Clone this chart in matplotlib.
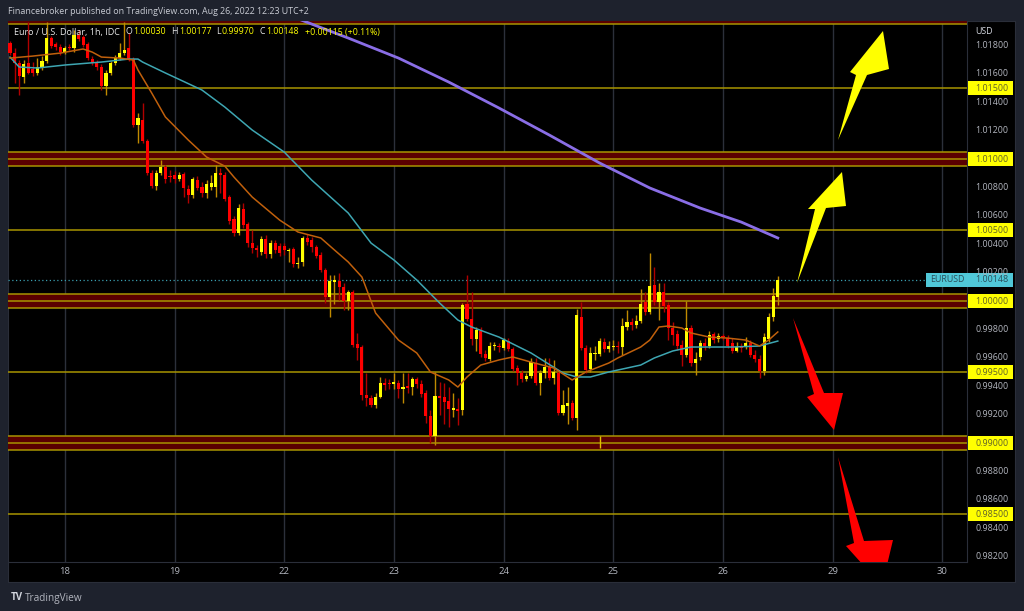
import matplotlib.pyplot as plt
import matplotlib.patches as mpatches
from matplotlib.transforms import blended_transform_factory
import numpy as np

plt.rcParams['font.family'] = ['Open Sans', 'DejaVu Sans']

# EUR/USD 1h candles, Aug 17 12:00 -> Aug 26 12:00
opens = [1.01817, 1.01746, 1.01676, 1.01577, 1.01676, 1.01634, 1.01606, 1.01641, 1.01690, 1.01852,
         1.01810, 1.01789, 1.01753, 1.01789, 1.01782, 1.01873, 1.01859, 1.01810, 1.01704, 1.01676,
         1.01648, 1.01514, 1.01606, 1.01676, 1.01711, 1.01746, 1.01782, 1.01704, 1.01239, 1.01275,
         1.01127, 1.00901, 1.00810, 1.00901, 1.00944, 1.00880, 1.00887, 1.00859, 1.00894, 1.00789,
         1.00746, 1.00852, 1.00803, 1.00761, 1.00803, 1.00803, 1.00901, 1.00887, 1.00732, 1.00577,
         1.00479, 1.00648, 1.00542, 1.00408, 1.00373, 1.00345, 1.00437, 1.00331, 1.00408, 1.00387,
         1.00387, 1.00352, 1.00366, 1.00261, 1.00275, 1.00444, 1.00430, 1.00380, 1.00324, 1.00218,
         1.00028, 1.00134, 1.00141, 1.00099, 1.00000, 1.00063, 0.99697, 0.99676, 0.99338, 0.99317,
         0.99268, 0.99324, 0.99423, 0.99423, 0.99416, 0.99423, 0.99380, 0.99401, 0.99394, 0.99451,
         0.99416, 0.99352, 0.99190, 0.99049, 0.99331, 0.99324, 0.99296, 0.99232, 0.99239, 0.99232,
         0.99979, 0.99873, 0.99732, 0.99789, 0.99627, 0.99592, 0.99683, 0.99683, 0.99669, 0.99718,
         0.99662, 0.99528, 0.99493, 0.99451, 0.99472, 0.99563, 0.99423, 0.99493, 0.99535, 0.99458,
         0.99493, 0.99211, 0.99261, 0.99282, 0.99176, 0.99887, 0.99669, 0.99521, 0.99627, 0.99627,
         0.99711, 0.99662, 0.99676, 0.99683, 0.99676, 0.99817, 0.99852, 0.99831, 0.99859, 0.99993,
         0.99923, 1.00113, 0.99993, 1.00063, 0.99972, 0.99810, 0.99768, 0.99690, 0.99620, 0.99810,
         0.99563, 0.99606, 0.99704, 0.99683, 0.99768, 0.99732, 0.99754, 0.99739, 0.99704, 0.99648,
         0.99676, 0.99676, 0.99704, 0.99620, 0.99592, 0.99507, 0.99732, 0.99887, 1.00030]
highs = [1.01831, 1.01782, 1.01697, 1.01697, 1.01965, 1.01683, 1.01711, 1.01725, 1.01965, 1.01866,
         1.01824, 1.01810, 1.01796, 1.01810, 1.01908, 1.01908, 1.01873, 1.01824, 1.01725, 1.01697,
         1.01669, 1.01627, 1.01690, 1.01732, 1.01817, 1.01965, 1.01887, 1.01718, 1.01324, 1.01394,
         1.01141, 1.00923, 1.00923, 1.00993, 1.00958, 1.00923, 1.00915, 1.00908, 1.00908, 1.00817,
         1.00873, 1.00880, 1.00838, 1.00852, 1.00887, 1.00958, 1.00937, 1.00908, 1.00746, 1.00599,
         1.00683, 1.00690, 1.00556, 1.00500, 1.00394, 1.00458, 1.00465, 1.00430, 1.00430, 1.00408,
         1.00408, 1.00373, 1.00380, 1.00310, 1.00458, 1.00472, 1.00451, 1.00394, 1.00345, 1.00232,
         1.00183, 1.00183, 1.00197, 1.00127, 1.00077, 1.00077, 0.99775, 0.99690, 0.99493, 0.99338,
         0.99352, 0.99465, 0.99458, 0.99451, 0.99493, 0.99444, 0.99493, 0.99493, 0.99465, 0.99465,
         0.99444, 0.99373, 0.99232, 0.99500, 0.99430, 0.99423, 0.99394, 0.99352, 0.99317, 0.99986,
         1.00183, 1.00063, 0.99817, 0.99817, 0.99655, 0.99711, 0.99711, 0.99704, 0.99739, 0.99739,
         0.99676, 0.99549, 0.99514, 0.99493, 0.99599, 0.99599, 0.99514, 0.99599, 0.99599, 0.99585,
         0.99514, 0.99373, 0.99394, 0.99303, 0.99944, 0.99993, 0.99690, 0.99676, 0.99683, 0.99739,
         0.99739, 0.99718, 0.99725, 0.99718, 0.99880, 0.99937, 0.99880, 0.99901, 1.00085, 1.00063,
         1.00338, 1.00239, 1.00127, 1.00127, 0.99993, 0.99852, 0.99796, 0.99725, 1.00000, 0.99831,
         0.99641, 0.99725, 0.99739, 0.99789, 0.99782, 0.99775, 0.99768, 0.99761, 0.99739, 0.99711,
         0.99704, 0.99746, 0.99725, 0.99655, 0.99620, 0.99775, 0.99915, 1.00092, 1.00177]
lows = [1.01732, 1.01535, 1.01451, 1.01535, 1.01599, 1.01584, 1.01591, 1.01627, 1.01676, 1.01782,
        1.01768, 1.01732, 1.01739, 1.01768, 1.01753, 1.01831, 1.01789, 1.01697, 1.01662, 1.01627,
        1.01486, 1.01451, 1.01591, 1.01662, 1.01697, 1.01732, 1.01690, 1.01225, 1.01113, 1.01113,
        1.00887, 1.00796, 1.00782, 1.00887, 1.00831, 1.00838, 1.00831, 1.00845, 1.00732, 1.00690,
        1.00725, 1.00782, 1.00732, 1.00725, 1.00782, 1.00732, 1.00761, 1.00704, 1.00542, 1.00458,
        1.00465, 1.00514, 1.00380, 1.00338, 1.00310, 1.00324, 1.00303, 1.00303, 1.00338, 1.00317,
        1.00324, 1.00275, 1.00239, 1.00232, 1.00246, 1.00394, 1.00345, 1.00303, 1.00204, 0.99986,
        0.99887, 0.99979, 1.00007, 0.99937, 0.99937, 0.99676, 0.99585, 0.99303, 0.99261, 0.99254,
        0.99246, 0.99317, 0.99373, 0.99380, 0.99380, 0.99317, 0.99282, 0.99352, 0.99338, 0.99387,
        0.99324, 0.99141, 0.99000, 0.98986, 0.99197, 0.99134, 0.99113, 0.99183, 0.99127, 0.99197,
        0.99859, 0.99690, 0.99648, 0.99606, 0.99577, 0.99577, 0.99655, 0.99641, 0.99655, 0.99648,
        0.99507, 0.99408, 0.99430, 0.99437, 0.99458, 0.99408, 0.99338, 0.99458, 0.99444, 0.99416,
        0.99197, 0.99197, 0.99134, 0.99162, 0.99092, 0.99655, 0.99493, 0.99500, 0.99585, 0.99613,
        0.99641, 0.99641, 0.99655, 0.99634, 0.99620, 0.99796, 0.99796, 0.99810, 0.99845, 0.99901,
        0.99908, 0.99972, 0.99866, 0.99923, 0.99725, 0.99690, 0.99655, 0.99542, 0.99606, 0.99542,
        0.99479, 0.99585, 0.99655, 0.99669, 0.99704, 0.99711, 0.99725, 0.99669, 0.99634, 0.99641,
        0.99641, 0.99662, 0.99606, 0.99570, 0.99458, 0.99479, 0.99711, 0.99859, 0.99970]
closes = [1.01746, 1.01676, 1.01584, 1.01669, 1.01606, 1.01606, 1.01648, 1.01690, 1.01852, 1.01796,
          1.01789, 1.01753, 1.01782, 1.01782, 1.01873, 1.01845, 1.01803, 1.01711, 1.01676, 1.01648,
          1.01514, 1.01606, 1.01676, 1.01711, 1.01746, 1.01768, 1.01704, 1.01239, 1.01289, 1.01127,
          1.00901, 1.00810, 1.00901, 1.00944, 1.00859, 1.00873, 1.00859, 1.00887, 1.00796, 1.00746,
          1.00859, 1.00796, 1.00761, 1.00824, 1.00831, 1.00901, 1.00887, 1.00718, 1.00563, 1.00479,
          1.00655, 1.00535, 1.00408, 1.00373, 1.00359, 1.00437, 1.00331, 1.00408, 1.00359, 1.00338,
          1.00359, 1.00359, 1.00261, 1.00268, 1.00444, 1.00415, 1.00380, 1.00317, 1.00218, 1.00028,
          1.00141, 1.00148, 1.00099, 1.00000, 1.00063, 0.99690, 0.99669, 0.99338, 0.99317, 0.99268,
          0.99324, 0.99423, 0.99408, 0.99416, 0.99430, 0.99380, 0.99394, 0.99387, 0.99451, 0.99416,
          0.99345, 0.99190, 0.99049, 0.99331, 0.99320, 0.99289, 0.99239, 0.99246, 0.99225, 0.99972,
          0.99873, 0.99732, 0.99796, 0.99627, 0.99599, 0.99683, 0.99690, 0.99676, 0.99725, 0.99662,
          0.99521, 0.99493, 0.99451, 0.99472, 0.99570, 0.99423, 0.99493, 0.99535, 0.99458, 0.99500,
          0.99211, 0.99268, 0.99282, 0.99176, 0.99901, 0.99669, 0.99514, 0.99634, 0.99634, 0.99718,
          0.99662, 0.99683, 0.99683, 0.99676, 0.99824, 0.99852, 0.99831, 0.99859, 0.99979, 0.99923,
          1.00106, 0.99993, 1.00063, 0.99965, 0.99810, 0.99761, 0.99683, 0.99620, 0.99810, 0.99563,
          0.99592, 0.99704, 0.99683, 0.99761, 0.99725, 0.99754, 0.99746, 0.99683, 0.99648, 0.99676,
          0.99669, 0.99704, 0.99620, 0.99592, 0.99507, 0.99746, 0.99887, 1.00035, 1.00148]

# moving averages (bar index, price)
ma_fast_idx = [0, 5, 11, 16, 18, 20, 24, 27, 28, 31, 34, 39, 43, 47, 49, 53, 59, 63, 68, 71,
               74, 77, 80, 85, 89, 92, 96, 98, 100, 103, 107, 110, 114, 119, 123, 126, 131, 133,
               138, 140, 142, 144, 147, 149, 153, 157, 161, 164, 166, 168]
ma_fast = [1.01711, 1.01725, 1.01746, 1.01775, 1.01753, 1.01718, 1.01711, 1.01697, 1.01627, 1.01465,
           1.01296, 1.01134, 1.01014, 1.00950, 1.00873, 1.00732, 1.00570, 1.00486, 1.00444, 1.00359,
           1.00275, 1.00169, 0.99915, 0.99725, 0.99634, 0.99500, 0.99444, 0.99394, 0.99465, 0.99549,
           0.99585, 0.99606, 0.99570, 0.99528, 0.99444, 0.99500, 0.99563, 0.99599, 0.99676, 0.99725,
           0.99817, 0.99824, 0.99810, 0.99775, 0.99746, 0.99739, 0.99725, 0.99683, 0.99725, 0.99782]
ma_mid_idx = [0, 2, 6, 12, 20, 26, 28, 29, 34, 42, 47, 53, 60, 66, 74, 79, 84, 89, 94, 98,
              101, 107, 114, 121, 124, 127, 131, 138, 141, 145, 149, 158, 164, 168]
ma_mid = [1.01718, 1.01648, 1.01641, 1.01662, 1.01683, 1.01704, 1.01704, 1.01683, 1.01606, 1.01486,
          1.01366, 1.01204, 1.01049, 1.00852, 1.00620, 1.00408, 1.00289, 1.00148, 0.99986, 0.99866,
          0.99817, 0.99746, 0.99634, 0.99493, 0.99465, 0.99465, 0.99500, 0.99549, 0.99599, 0.99648,
          0.99676, 0.99676, 0.99683, 0.99718]
ma_slow_idx = [62, 74, 85, 96, 107, 118, 129, 140, 151, 160, 168]
ma_slow = [1.02000, 1.01852, 1.01711, 1.01542, 1.01359, 1.01169, 1.00972, 1.00796, 1.00655, 1.00556, 1.00444]

day_pos = [12, 36, 60, 84, 108, 132, 156, 180, 204]
day_labels = ['18', '19', '22', '23', '24', '25', '26', '29', '30']

level_lines = [1.0150, 1.0050, 0.9950, 0.9850]
zone_levels = [1.0200, 1.0100, 1.0000, 0.9900]
zone_half = 0.00052
axis_ticks = [1.018, 1.016, 1.014, 1.012, 1.008, 1.006, 1.004, 1.002,
              0.998, 0.996, 0.994, 0.992, 0.988, 0.986, 0.984, 0.982]
tag_levels = [1.0150, 1.0100, 1.0050, 1.0000, 0.9950, 0.9900, 0.9850]
last_price = 1.00148

W, H = 1024, 611
fig = plt.figure(figsize=(W / 100, H / 100), dpi=100)
fig.patch.set_facecolor('#1e222d')


def fx(px):
    return px / W


def fy(py):
    return 1 - py / H


ymin, ymax = 0.98162, 1.01972

# black chart panel
panel = fig.add_axes([fx(8), fy(582), fx(1015) - fx(8), fy(21) - fy(582)])
panel.set_facecolor('black')
panel.set_xticks([])
panel.set_yticks([])
for s in panel.spines.values():
    s.set_color('#2a2e39')

ax = fig.add_axes([fx(8), fy(562), fx(967) - fx(8), fy(21) - fy(562)])
ax.set_facecolor('none')
ax.set_xlim(-0.44, 209.4)
ax.set_ylim(ymin, ymax)
ax.set_xticks([])
ax.set_yticks([])
for s in ax.spines.values():
    s.set_visible(False)
ax.spines['bottom'].set_visible(True)
ax.spines['bottom'].set_color('#2a2e39')
ax.spines['right'].set_visible(True)
ax.spines['right'].set_color('#2a2e39')

# day grid
ax.vlines(day_pos, ymin, ymax, color='#2c303a', lw=1, zorder=0)

# zones and levels
for z in zone_levels:
    ax.axhspan(z - zone_half, z + zone_half, color='#5a0000', lw=0, zorder=1)
    for v in (z - zone_half, z, z + zone_half):
        ax.axhline(v, color='#a89400', lw=1.1, zorder=1.5)
for lv in level_lines:
    ax.axhline(lv, color='#a89400', lw=1.1, zorder=1.5)
ax.axhline(last_price, color='#3a9fb0', lw=0.9, ls=(0, (1, 2)), zorder=1.5)
ax.vlines(129, 0.98965, 0.99052, color='#e0c000', lw=1, zorder=1.6)

# candles
x = np.arange(len(opens))
o = np.array(opens)
c = np.array(closes)
up = c >= o
wick_cols = np.where(up, '#c08a00', '#b00000')
body_cols = np.where(up, '#ffff00', '#ff0000')
ax.vlines(x, lows, highs, colors=wick_cols, lw=1, zorder=3)
body_h = np.maximum(np.abs(c - o), 0.00003)
ax.bar(x, body_h, bottom=np.minimum(o, c), width=0.68, color=body_cols, lw=0, zorder=4)

# moving averages
ax.plot(ma_slow_idx, ma_slow, color='#8a6ee6', lw=2, zorder=5)
ax.plot(ma_mid_idx, ma_mid, color='#3ea6b2', lw=1.1, zorder=5)
ax.plot(ma_fast_idx, ma_fast, color='#c0600c', lw=1.1, zorder=5)

# day labels in the time axis row
tb = blended_transform_factory(ax.transData, fig.transFigure)
for p, lab in zip(day_pos, day_labels):
    ax.text(p, fy(572), lab, transform=tb, ha='center', va='center',
            color='#b2b5be', fontsize=6.8, clip_on=False)

# price scale
rax = fig.add_axes([fx(967), fy(562), fx(1015) - fx(967), fy(21) - fy(562)])
rax.set_facecolor('none')
rax.set_xlim(967, 1015)
rax.set_ylim(ymin, ymax)
rax.axis('off')
for t in axis_ticks:
    rax.text(975, t, f'{t:.5f}', color='#b2b5be', fontsize=6.4, va='center', ha='left')
rax.text(975, 1.0190, 'USD', color='#d1d4dc', fontsize=6.4, va='center', ha='left')
tag_h = 0.00092
for t in tag_levels:
    rax.add_patch(mpatches.Rectangle((968, t - tag_h / 2), 45, tag_h, color='#ffff00', lw=0, clip_on=False))
    rax.text(975, t, f'{t:.5f}', color='#60602a', fontsize=6.4, va='center', ha='left')
rax.add_patch(mpatches.Rectangle((926, last_price - tag_h / 2), 87, tag_h, color='#50c8d8', lw=0, clip_on=False))
rax.text(930, last_price, 'EURUSD', color='#2a4e5a', fontsize=6.4, va='center', ha='left', clip_on=False)
rax.text(975, last_price, f'{last_price:.5f}', color='#2a4e5a', fontsize=6.4, va='center', ha='left')

# hand-drawn arrows (pixel coordinates on an overlay)
ov = fig.add_axes([0, 0, 1, 1])
ov.set_xlim(0, W)
ov.set_ylim(H, 0)
ov.axis('off')
ov.patch.set_alpha(0)
clip = mpatches.Rectangle((8, 21), 959, 541, transform=ov.transData, visible=False)
ov.add_patch(clip)
arrows = [
    ('#ffff00', [(838, 140), (856, 75), (850, 72), (883, 31), (889, 69), (867, 75)]),
    ('#ffff00', [(797, 283), (815, 209), (808, 209), (842, 172), (846, 206), (826, 208)]),
    ('#ff0000', [(793, 318), (814, 394), (807, 397), (834, 430), (843, 393), (824, 393)]),
    ('#ff0000', [(838, 457), (854, 543), (846, 546), (882, 586), (893, 540), (864, 541)]),
]
for col, pts in arrows:
    poly = mpatches.Polygon(pts, closed=True, color=col, lw=0)
    ov.add_patch(poly)
    poly.set_clip_path(clip)

# header texts
fig.text(fx(8), fy(11), 'Financebroker published on TradingView.com, Aug 26, 2022 12:23 UTC+2',
         color='#c8cbd3', fontsize=6.4, va='center', ha='left')

# legend line: pieces placed one after another so they never collide
renderer = fig.canvas.get_renderer()
parts = [('Euro / U.S. Dollar, 1h, IDC', '#e6e6e6', 6.5, 0), ('O', '#e6e6e6', 6.3, 6),
         ('1.00030', '#ffff00', 6.3, 1), ('H', '#e6e6e6', 6.3, 5), ('1.00177', '#ffff00', 6.3, 1),
         ('L', '#e6e6e6', 6.3, 5), ('0.99970', '#ffff00', 6.3, 1), ('C', '#e6e6e6', 6.3, 5),
         ('1.00148', '#ffff00', 6.3, 1), ('+0.00115 (+0.11%)', '#ffff00', 6.3, 6)]
cur = 14
for s, col, fs, gap in parts:
    cur += gap
    t = fig.text(fx(cur), fy(32), s, color=col, fontsize=fs, va='center', ha='left')
    cur = t.get_window_extent(renderer).x1

fig.text(fx(11), fy(598), 'TV', color='#d1d4dc', fontsize=7, fontweight='bold', va='center')
fig.text(fx(25), fy(598), 'TradingView', color='#b2b5be', fontsize=7.2, va='center')

fig.savefig('out.png', dpi=100, facecolor=fig.get_facecolor())
